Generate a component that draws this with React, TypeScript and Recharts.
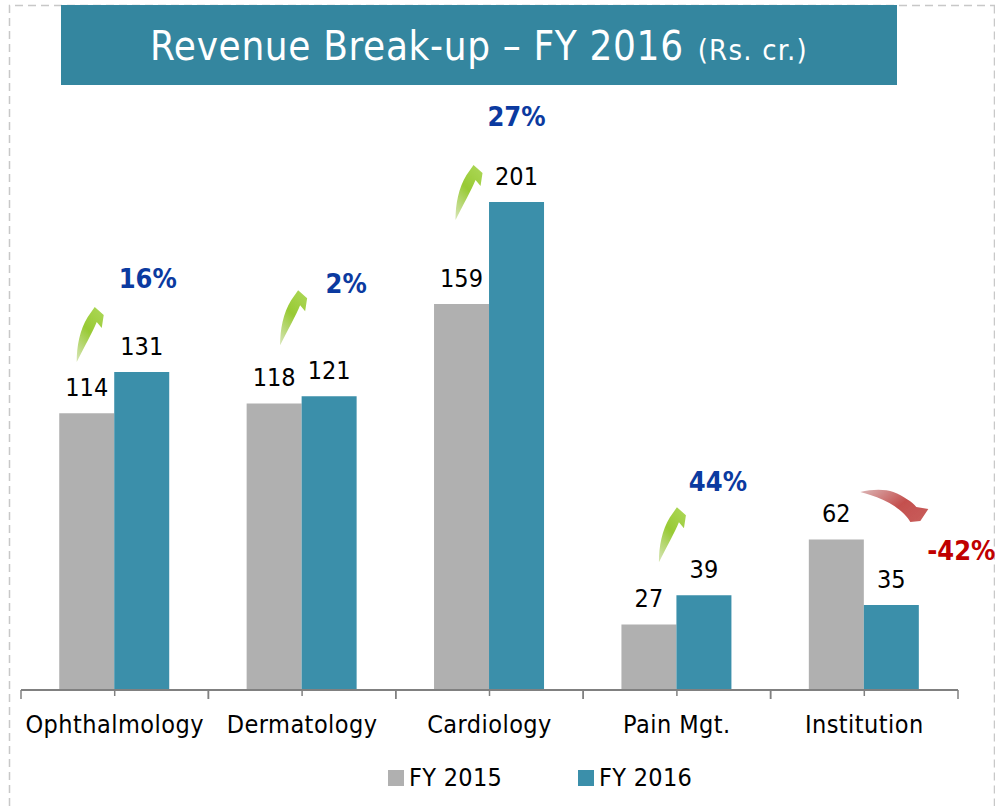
import { BarChart, Bar, XAxis, YAxis, Legend, LabelList } from "recharts";

const categories = ["Ophthalmology", "Dermatology", "Cardiology", "Pain Mgt.", "Institution"];
const fy2015 = [114, 118, 159, 27, 62];
const fy2016 = [131, 121, 201, 39, 35];
const growth = ["16%", "2%", "27%", "44%", "-42%"];

const data = categories.map((name, i) => ({
  name,
  fy2015: fy2015[i],
  fy2016: fy2016[i],
}));

// offsets from the top centre of the FY 2016 bar
const growthOffsets = [
  [6, -84],
  [17, -103],
  [0, -76],
  [14, -104],
  [70, -45],
];
const arrowOffsets = [
  [-65, -10],
  [-49, -51],
  [-61, 18],
  [-45, -33],
  [-31, -113],
];

const FONT = "'DejaVu Sans Condensed', 'DejaVu Sans', sans-serif";
const GREY = "#b0b0b0";
const TEAL = "#3b8faa";

const UP_ARROW = "M0,0 C0,-16 3,-32 11,-45 L18,-55 L27,-47 L25,-34 L20,-40 C16,-30 7,-14 0,0 Z";
const DOWN_ARROW = "M0,0 C12,-3 25,-3 33,0 C43,4 52,10 56,15 L68,17 L60,29 L50,30 C47,24 38,15 23,8 C14,4 7,2 0,0 Z";

function CategoryTick({ x, y, payload }: any) {
  const half = 187.4 / 2;
  const axisY = y - 8;
  return (
    <g>
      <line x1={x} x2={x} y1={axisY} y2={axisY + 6} stroke="#808080" strokeWidth={1.5} />
      <line x1={x - half} x2={x - half} y1={axisY} y2={axisY + 9} stroke="#808080" strokeWidth={1.5} />
      <line x1={x + half} x2={x + half} y1={axisY} y2={axisY + 9} stroke="#808080" strokeWidth={1.5} />
      <text x={x} y={axisY + 43} textAnchor="middle" fontFamily={FONT} fontSize={25} letterSpacing={0.45} fill="#000">
        {payload.value}
      </text>
    </g>
  );
}

function GrowthMark({ x, y, width, index }: any) {
  const cx = x + width / 2;
  const down = growth[index].startsWith("-");
  const [tx, ty] = growthOffsets[index];
  const [ax, ay] = arrowOffsets[index];
  const gradId = `arrow-${index}`;
  return (
    <g>
      <defs>
        <linearGradient id={gradId} x1={down ? "0" : "0.2"} y1={down ? "0.2" : "1"} x2={down ? "1" : "0.7"} y2={down ? "0.8" : "0"}>
          <stop offset="0" stopColor={down ? "#d8a8a8" : "#d0e2a8"} />
          <stop offset="0.55" stopColor={down ? "#c4504e" : "#98ca34"} />
          <stop offset="1" stopColor={down ? "#c85c5a" : "#a9d552"} />
        </linearGradient>
        <filter id={`soft-${index}`} x="-20%" y="-20%" width="140%" height="140%">
          <feGaussianBlur stdDeviation="0.7" />
        </filter>
      </defs>
      <path
        d={down ? DOWN_ARROW : UP_ARROW}
        transform={`translate(${cx + ax},${y + ay})`}
        fill={`url(#${gradId})`}
        filter={`url(#soft-${index})`}
      />
      <text
        x={cx + tx}
        y={y + ty}
        textAnchor="middle"
        fontFamily={FONT}
        fontWeight={700}
        fontSize={27}
        fill={down ? "#c00000" : "#0b3aa0"}
      >
        {growth[index]}
      </text>
    </g>
  );
}

function ChartLegend() {
  const items = [
    { label: "FY 2015", color: GREY, left: 388 },
    { label: "FY 2016", color: TEAL, left: 578 },
  ];
  return (
    <div style={{ position: "relative", width: 995, height: 56 }}>
      {items.map((item) => (
        <div key={item.label} style={{ position: "absolute", left: item.left, top: 13, display: "flex", alignItems: "center" }}>
          <span style={{ width: 16, height: 16, background: item.color, marginRight: 5 }} />
          <span style={{ fontFamily: FONT, fontSize: 25, letterSpacing: 0.3, color: "#000", lineHeight: "30px" }}>{item.label}</span>
        </div>
      ))}
    </div>
  );
}

export default function App() {
  return (
    <div style={{ position: "absolute", left: 0, top: 0, width: 995, height: 806, overflow: "hidden", background: "#fff" }}>
      <svg width={995} height={806} style={{ position: "absolute", left: 0, top: 0 }}>
        <path d="M9.5,806 V5.5 H995 M994.5,5.5 V806" fill="none" stroke="#c8c8c8" strokeWidth={1.5} strokeDasharray="8 5" />
        <rect x={61} y={5} width={836} height={80} fill="#34869f" />
        <text x={150} y={60} fontFamily={FONT} fontSize={40} letterSpacing={0.65} fill="#fff">
          Revenue Break-up – FY 2016
          <tspan fontSize={29} dx={14} letterSpacing={1.2}>(Rs. cr.)</tspan>
        </text>
      </svg>
      <BarChart
        width={995}
        height={806}
        data={data}
        margin={{ top: 83, right: 37, bottom: 0, left: 21 }}
        barGap={0}
        barCategoryGap="20.4%"
        style={{ position: "absolute", left: 0, top: 0 }}
      >
        <XAxis
          dataKey="name"
          height={60}
          interval={0}
          axisLine={{ stroke: "#808080", strokeWidth: 2 }}
          tickLine={false}
          tick={<CategoryTick />}
        />
        <YAxis hide domain={[0, 250]} />
        <Legend verticalAlign="bottom" height={56} content={<ChartLegend />} wrapperStyle={{ left: 0, width: 995 }} />
        <Bar dataKey="fy2015" name="FY 2015" fill={GREY} isAnimationActive={false}>
          <LabelList dataKey="fy2015" position="top" offset={17} fontFamily={FONT} fontSize={25} fill="#000" />
        </Bar>
        <Bar dataKey="fy2016" name="FY 2016" fill={TEAL} isAnimationActive={false}>
          <LabelList dataKey="fy2016" position="top" offset={17} fontFamily={FONT} fontSize={25} fill="#000" />
          <LabelList dataKey="fy2016" content={<GrowthMark />} />
        </Bar>
      </BarChart>
    </div>
  );
}
